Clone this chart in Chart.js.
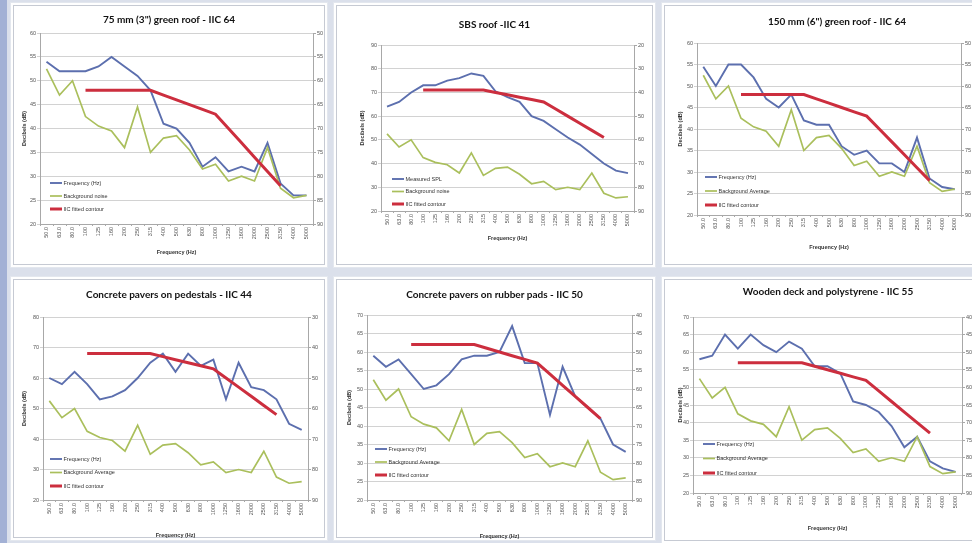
<!DOCTYPE html>
<html>
<head>
<meta charset="utf-8">
<script src="https://cdn.jsdelivr.net/npm/chart.js@4.4.0/dist/chart.umd.min.js"></script>
<style>
  html, body { margin: 0; padding: 0; }
  body { width: 972px; height: 543px; overflow: hidden; background: #dbe0eb; position: relative; }
  .strip { position: absolute; left: 0; top: 0; width: 7px; height: 543px; background: #a3b1d5; }
  .panel { position: absolute; background: #fff; outline: 1px solid #c6cad3; outline-offset: -3px; box-shadow: 0 0 0 1px #e3e7ee; }
  .panel canvas { position: absolute; left: 0; top: 0; }
</style>
</head>
<body>
<div class="strip"></div>
<script>
// One-third-octave band centre frequencies (Hz)
const frequencies = ['50.0','63.0','80.0','100','125','160','200','250','315','400','500','630','800','1000','1250','1600','2000','2500','3150','4000','5000'];

// Background level, identical for every test (dB)
const backgroundNoise = [52.5, 47, 50, 42.5, 40.5, 39.5, 36, 44.5, 35, 38, 38.5, 35.5, 31.5, 32.5, 29, 30, 29, 36, 27.5, 25.5, 26];

// Measured impact sound levels (dB) and the fitted IIC contours
const roof75Spl      = [54, 52, 52, 52, 53, 55, 53, 51, 48, 41, 40, 37, 32, 34, 31, 32, 31, 37, 28.5, 26, 26];
const roof75Contour  = [null, null, null, 48, 48, 48, 48, 48, 48, 47, 46, 45, 44, 43, 40, 37, 34, 31, 28, null, null];

const sbsSpl         = [64, 66, 70, 73, 73, 75, 76, 78, 77, 70.5, 68, 66, 60, 58, 54.5, 51, 48, 44, 40, 37, 36];
const sbsContour     = [null, null, null, 71, 71, 71, 71, 71, 71, 70, 69, 68, 67, 66, 63, 60, 57, 54, 51, null, null];

const roof150Spl     = [54.5, 50, 55, 55, 52, 47, 45, 48, 42, 41, 41, 36, 34, 35, 32, 32, 30, 38, 28.5, 26.5, 26];
const roof150Contour = [null, null, null, 48, 48, 48, 48, 48, 48, 47, 46, 45, 44, 43, 40, 37, 34, 31, 28, null, null];

const pedestalSpl     = [60, 58, 62, 58, 53, 54, 56, 60, 65, 68, 62, 68, 64, 66, 53, 65, 57, 56, 53, 45, 43];
const pedestalContour = [null, null, null, 68, 68, 68, 68, 68, 68, 67, 66, 65, 64, 63, 60, 57, 54, 51, 48, null, null];

const rubberSpl      = [59, 56, 58, 54, 50, 51, 54, 58, 59, 59, 60, 67, 57, 57, 43, 56, 48, 45, 42, 35, 33];
const rubberContour  = [null, null, null, 62, 62, 62, 62, 62, 62, 61, 60, 59, 58, 57, 54, 51, 48, 45, 42, null, null];

const deckSpl        = [58, 59, 65, 61, 65, 62, 60, 63, 61, 56, 56, 54, 46, 45, 43, 39, 33, 36, 29, 27, 26];
const deckContour    = [null, null, null, 57, 57, 57, 57, 57, 57, 56, 55, 54, 53, 52, 49, 46, 43, 40, 37, null, null];

const COLORS = { spl: '#5c6fae', bg: '#aabf5c', iic: '#cc2e3e' };
const SMALL = 'Liberation Sans';
const TITLE_FONT = 'Lato';

// Layout of the six chart panels (page pixels)
const panels = [
  { title: '75 mm (3") green roof - IIC 64', splLabel: 'Frequency (Hz)', bgLabel: 'Background noise',
    spl: roof75Spl, contour: roof75Contour, left: [20, 60, 5], right: [50, 90, 5],
    box: [11, 3, 316, 264], plot: [40, 313, 33, 224], titleY: 20, yTitleX: 24, xTitleY: 252, legend: [50, 183, 13] },
  { title: 'SBS roof -IIC 41', splLabel: 'Measured SPL', bgLabel: 'Background noise',
    spl: sbsSpl, contour: sbsContour, left: [20, 90, 10], right: [20, 90, 10],
    box: [334, 3, 321, 264], plot: [381, 634, 45, 211], titleY: 25, yTitleX: 362, xTitleY: 238, legend: [392, 179, 12.5] },
  { title: '150 mm (6") green roof - IIC 64', splLabel: 'Frequency (Hz)', bgLabel: 'Background Average',
    spl: roof150Spl, contour: roof150Contour, left: [20, 60, 5], right: [50, 90, 5],
    box: [662, 3, 350, 264], plot: [697, 961, 43, 215], titleY: 22, yTitleX: 680, xTitleY: 247, legend: [705, 177, 14] },
  { title: 'Concrete pavers on pedestals - IIC 44', splLabel: 'Frequency (Hz)', bgLabel: 'Background Average',
    spl: pedestalSpl, contour: pedestalContour, left: [20, 80, 10], right: [30, 90, 10],
    box: [11, 277, 316, 263], plot: [43, 308, 317, 500], titleY: 295, yTitleX: 24, xTitleY: 535, legend: [50, 459, 13.5] },
  { title: 'Concrete pavers on rubber pads - IIC 50', splLabel: 'Frequency (Hz)', bgLabel: 'Background Average',
    spl: rubberSpl, contour: rubberContour, left: [20, 70, 5], right: [40, 90, 5],
    box: [334, 277, 321, 263], plot: [367, 632, 315, 500], titleY: 295, yTitleX: 349, xTitleY: 536, legend: [375, 449, 13] },
  { title: 'Wooden deck and polystyrene - IIC 55', splLabel: 'Frequency (Hz)', bgLabel: 'Background Average',
    spl: deckSpl, contour: deckContour, left: [20, 70, 5], right: [40, 90, 5],
    box: [662, 277, 332, 266], plot: [693, 962, 317, 493], titleY: 292, yTitleX: 680, xTitleY: 528, legend: [703, 444, 14.5] }
];

// Legend drawn inside the plot area, lower left, like the spreadsheet charts
const insideLegend = {
  id: 'insideLegend',
  afterDatasetsDraw(chart, args, opts) {
    const ctx = chart.ctx;
    ctx.save();
    ctx.font = opts.size + 'px ' + SMALL;
    ctx.textBaseline = 'middle';
    ctx.textAlign = 'left';
    chart.data.datasets.forEach((ds, i) => {
      const y = opts.y + i * opts.gap;
      ctx.strokeStyle = ds.borderColor;
      ctx.lineWidth = ds.borderWidth;
      ctx.beginPath();
      ctx.moveTo(opts.x, y);
      ctx.lineTo(opts.x + opts.sample, y);
      ctx.stroke();
      ctx.fillStyle = '#333';
      ctx.fillText(ds.label, opts.x + opts.sample + 1.5, y);
    });
    ctx.restore();
  }
};

function buildChart(p) {
  const [bx, by, bw, bh] = p.box;
  const div = document.createElement('div');
  div.className = 'panel';
  div.style.left = bx + 'px';
  div.style.top = by + 'px';
  div.style.width = bw + 'px';
  div.style.height = bh + 'px';
  const cv = document.createElement('canvas');
  cv.width = bw; cv.height = bh;
  cv.style.width = bw + 'px'; cv.style.height = bh + 'px';
  div.appendChild(cv);
  document.body.appendChild(div);

  const L = p.plot[0] - bx;
  const R = bw - (p.plot[1] - bx);
  const T = p.plot[2] - by;
  const B = bh - (p.plot[3] - by);

  const titleSize = 10, titleLH = titleSize * 1.2;
  const titleTop = (p.titleY - by) - titleLH / 2;
  const axisTitleSize = 5.5, axisLH = axisTitleSize * 1.2;
  const tickFont = { family: SMALL, size: 5.5 };

  new Chart(cv, {
    type: 'line',
    data: {
      labels: frequencies,
      datasets: [
        { label: p.splLabel, data: p.spl, borderColor: COLORS.spl, borderWidth: 1.9, pointRadius: 0, order: 3 },
        { label: p.bgLabel, data: backgroundNoise, borderColor: COLORS.bg, borderWidth: 1.7, pointRadius: 0, order: 2 },
        { label: 'IIC fitted contour', data: p.contour, borderColor: COLORS.iic, borderWidth: 3, pointRadius: 0, order: 1 }
      ]
    },
    options: {
      responsive: false,
      animation: false,
      events: [],
      layout: { padding: 0 },
      plugins: {
        legend: { display: false },
        tooltip: { enabled: false },
        title: {
          display: true, text: p.title, color: '#111',
          font: { family: TITLE_FONT, weight: 'bold', size: titleSize },
          padding: { top: titleTop, bottom: T - titleTop - titleLH }
        },
        insideLegend: { x: p.legend[0] - bx, y: p.legend[1] - by, gap: p.legend[2], sample: 12, size: 5.5 }
      },
      scales: {
        x: {
          offset: true,
          grid: { drawOnChartArea: false, tickLength: 2, color: '#a8a8a8', offset: true },
          border: { color: '#a8a8a8' },
          ticks: { autoSkip: false, minRotation: 90, maxRotation: 90, font: tickFont, color: '#555', padding: 1 },
          title: { display: true, text: 'Frequency (Hz)', color: '#333',
                   font: { family: SMALL, size: axisTitleSize, weight: 'bold' },
                   padding: { top: 0, bottom: (bh - (p.xTitleY - by)) - axisLH / 2 } },
          afterFit: s => { s.height = B; }
        },
        y: {
          position: 'left',
          min: p.left[0], max: p.left[1],
          ticks: { stepSize: p.left[2], font: tickFont, color: '#555', padding: 1 },
          grid: { color: '#d2d2d2', tickLength: 3 },
          border: { color: '#a8a8a8' },
          title: { display: true, text: 'Decibels (dB)', color: '#333',
                   font: { family: SMALL, size: axisTitleSize, weight: 'bold' },
                   padding: { top: (p.yTitleX - bx) - axisLH / 2, bottom: 0 } },
          afterFit: s => { s.width = L; }
        },
        y2: {
          position: 'right',
          reverse: true,
          min: p.right[0], max: p.right[1],
          ticks: { stepSize: p.right[2], font: tickFont, color: '#555', padding: 1 },
          grid: { drawOnChartArea: false, tickLength: 3, color: '#a8a8a8' },
          border: { color: '#a8a8a8' },
          afterFit: s => { s.width = R; }
        }
      }
    },
    plugins: [insideLegend]
  });
}

panels.forEach(buildChart);
</script>
</body>
</html>
